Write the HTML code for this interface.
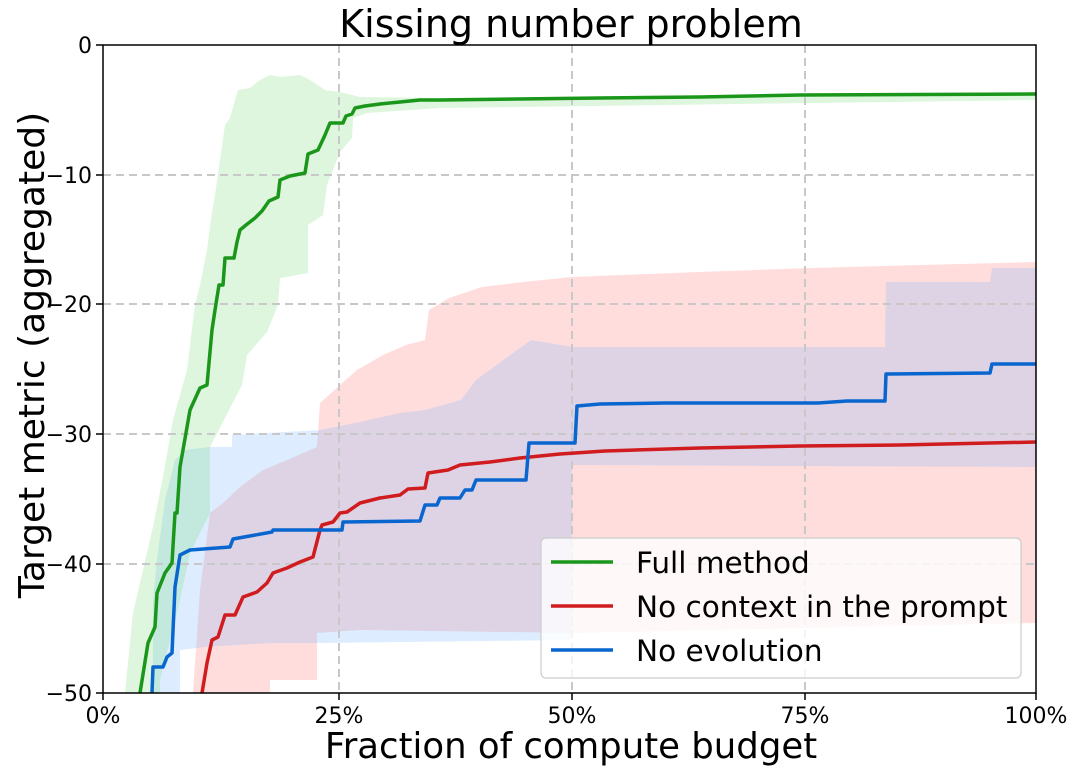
<!DOCTYPE html>
<html><head><style>html,body{margin:0;padding:0;background:#fff}</style></head><body>
<svg width="1080" height="773" xmlns="http://www.w3.org/2000/svg" font-family="'DejaVu Sans','Liberation Sans',sans-serif">
<defs><clipPath id="c"><rect x="103" y="45" width="933" height="648"/></clipPath></defs>
<g clip-path="url(#c)">
<polygon fill="rgb(255,120,120)" fill-opacity="0.25" points="193,693 200,590 210,513 223,503 240,487 263,470 287,460 317,447 320,403 340,385 357,370 383,355 406,345 425,340 429,310 449,298 482,287 523,282 572,277 699,272 810,268 1036,262 1036,623 576,633 360,630 317,633 317,680 270,680 270,693"/>
<polygon fill="rgb(120,185,255)" fill-opacity="0.25" points="153,693 153,600 157,560 165,500 175,460 185,450 210,447 232,447 232,435 320,430 360,422 400,413 425,410 461,400 476,380 531,340 572,347 885,347 886,282 990,282 992,268 1036,268 1036,467 572,465 572,640 317,643 270,643 205,647 180,650 180,693"/>
<polygon fill="rgb(120,220,120)" fill-opacity="0.25" points="125,693 133,613 143,570 153,527 163,477 173,420 187,370 195,305 200,285 207,250 212,212 215,195 220,160 225,125 230,118 238,90 250,88 260,80 270,75 280,77 300,75 310,80 325,90 340,92 360,97 440,98 1036,92 1036,100 440,108 367,113 353,118 352,138 340,152 327,185 323,215 308,225 308,273 280,278 278,305 267,332 247,355 242,385 210,447 210,513 190,553 180,600 160,680 160,693"/>
</g>
<g stroke="#c8c8c8" stroke-width="2" stroke-dasharray="8,5">
<line x1="339" y1="45" x2="339" y2="693"/><line x1="572" y1="45" x2="572" y2="693"/><line x1="805" y1="45" x2="805" y2="693"/>
<line x1="103" y1="175" x2="1036" y2="175"/><line x1="103" y1="304" x2="1036" y2="304"/><line x1="103" y1="434" x2="1036" y2="434"/><line x1="103" y1="564" x2="1036" y2="564"/>
</g>
<g clip-path="url(#c)" fill="none" stroke-width="3.5" stroke-linejoin="round">
<polyline stroke="#d01c1f" points="202,693 207,663 212,640 218,637 225,615 235,615 243,597 257,592 267,583 273,573 287,568 300,562 313,557 320,530 322,525 333,522 340,513 347,512 360,503 380,498 400,495 408,489 425,488 428,473 448,470 460,465 490,462 520,458 560,454 605,451 700,448 800,446 900,445 1036,442"/>
<polyline stroke="#0a66cf" points="152,693 153,667 163,667 167,657 172,653 175,587 180,555 190,550 230,547 233,539 272,532 273,530 342,530 343,522 420,521 425,505 437,505 440,498 460,498 465,490 472,490 476,480 526,480 529,443 575,443 577,406 600,404 665,403 818,403 847,401 885,401 886,374 990,373 992,364 1036,364"/>
<polyline stroke="#1a971a" points="140,693 148,643 155,627 157,593 165,573 172,563 175,513 177,513 180,467 183,450 190,410 200,388 207,385 212,330 215,310 219,285 223,285 225,258 234,258 237,242 240,230 246,225 255,218 262,211 269,201 278,197 280,180 290,176 305,173 308,154 318,150 325,135 330,123 343,123 346,116 352,114 355,108 365,106 380,104 400,102 420,100 440,100 600,98 700,97 800,95 1036,94"/>
</g>
<rect x="103" y="45" width="933" height="648" fill="none" stroke="#000" stroke-width="1.5"/>
<g stroke="#000" stroke-width="1.5">
<line x1="103" y1="693" x2="103" y2="700"/><line x1="339" y1="693" x2="339" y2="700"/><line x1="572" y1="693" x2="572" y2="700"/><line x1="805" y1="693" x2="805" y2="700"/><line x1="1036" y1="693" x2="1036" y2="700"/>
<line x1="96" y1="45" x2="103" y2="45"/><line x1="96" y1="175" x2="103" y2="175"/><line x1="96" y1="304" x2="103" y2="304"/><line x1="96" y1="434" x2="103" y2="434"/><line x1="96" y1="564" x2="103" y2="564"/><line x1="96" y1="693" x2="103" y2="693"/>
</g>
<g font-size="22" fill="#000" text-anchor="middle">
<text x="103" y="723">0%</text><text x="339" y="723">25%</text><text x="572" y="723">50%</text><text x="805" y="723">75%</text><text x="1036" y="723">100%</text>
</g>
<g font-size="22" fill="#000" text-anchor="end">
<text x="92" y="53">0</text><text x="92" y="183">−10</text><text x="92" y="312">−20</text><text x="92" y="442">−30</text><text x="92" y="572">−40</text><text x="92" y="701">−50</text>
</g>
<text x="571" y="37" font-size="38" text-anchor="middle">Kissing number problem</text>
<text x="571" y="758" font-size="35.5" text-anchor="middle">Fraction of compute budget</text>
<text transform="translate(44,355) rotate(-90)" font-size="36" text-anchor="middle">Target metric (aggregated)</text>
<rect x="541" y="538" width="480" height="140" rx="5" fill="#fff" fill-opacity="0.8" stroke="#ccc" stroke-width="1.2"/>
<line x1="551" y1="562" x2="613" y2="562" stroke="#1a971a" stroke-width="3.5"/>
<line x1="551" y1="606" x2="613" y2="606" stroke="#d01c1f" stroke-width="3.5"/>
<line x1="551" y1="650" x2="613" y2="650" stroke="#0a66cf" stroke-width="3.5"/>
<g font-size="29.5" fill="#000">
<text x="636" y="573">Full method</text><text x="636" y="617">No context in the prompt</text><text x="636" y="661">No evolution</text>
</g>
</svg>
</body></html>
